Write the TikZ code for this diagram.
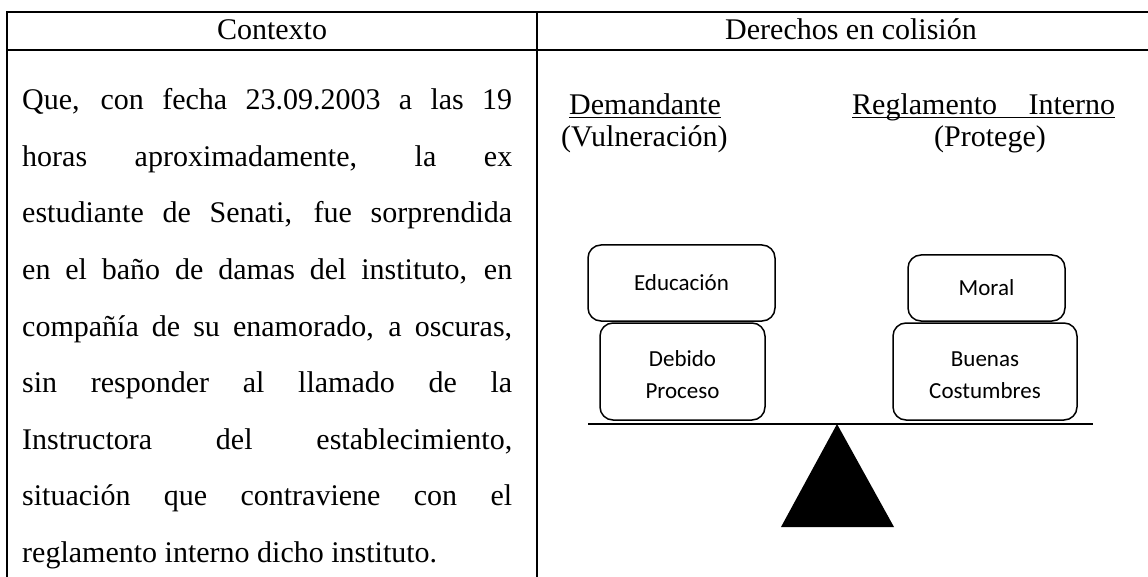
\documentclass[tikz,border=0pt]{standalone}
\usepackage{fontspec}
\setmainfont{Liberation Serif}
\newfontfamily\boxfont{Carlito}
\newcommand\myul[1]{\setbox0\hbox{#1}\rlap{\rule[-3.5pt]{\wd0}{1.3pt}}\box0}
\tikzset{
  tabline/.style={line width=2pt},
  hdtext/.style={font=\fontsize{30}{36}\selectfont, anchor=base, inner sep=0pt},
  bodytext/.style={font=\fontsize{30}{36}\selectfont, anchor=base west, inner sep=0pt},
  rbox/.style={draw, line width=1.5pt, rounded corners=13pt, inner sep=0pt,
    font=\boxfont\fontsize{23}{32}\selectfont, align=center},
}
\begin{document}
\begin{tikzpicture}[x=1pt,y=-1pt]
\useasboundingbox (0,0) rectangle (1148,577);
% table
\draw[tabline] (1148,12) -- (6.5,12) -- (6.5,577);
\draw[tabline] (6.5,50) -- (1148,50);
\draw[tabline] (537,12) -- (537,577);
% headers
\node[hdtext] (hctx) at (272,40) {Contexto};
\node[hdtext] (hder) at (851,40) {Derechos en colisión};
% left column text
\node[bodytext] (l1) at (22,110) {\makebox[490pt][s]{Que, con fecha 23.09.2003 a las 19}};
\node[bodytext] (l2) at (22,166.5) {\makebox[490pt][s]{horas aproximadamente, la ex}};
\node[bodytext] (l3) at (22,223) {\makebox[490pt][s]{estudiante de Senati, fue sorprendida}};
\node[bodytext] (l4) at (22,279.5) {\makebox[490pt][s]{en el baño de damas del instituto, en}};
\node[bodytext] (l5) at (22,336) {\makebox[490pt][s]{compañía de su enamorado, a oscuras,}};
\node[bodytext] (l6) at (22,392.5) {\makebox[490pt][s]{sin responder al llamado de la}};
\node[bodytext] (l7) at (22,449) {\makebox[490pt][s]{Instructora del establecimiento,}};
\node[bodytext] (l8) at (22,505.5) {\makebox[490pt][s]{situación que contraviene con el}};
\node[bodytext] (l9) at (22,562) {reglamento interno dicho instituto.};
% right column labels
\node[bodytext] (dem) at (569,115) {\myul{Demandante}};
\node[bodytext] (vul) at (561,147) {(Vulneración)};
\node[bodytext] (reg) at (852,115) {\myul{\makebox[263pt][s]{Reglamento Interno}}};
\node[hdtext] (pro) at (990,147) {(Protege)};
% boxes
\node[rbox, minimum width=187pt, minimum height=76pt] (edu) at (681.5,283) {Educación};
\node[rbox, minimum width=165pt, minimum height=97pt] (deb) at (682.5,371.5) {\rule{0pt}{23pt}Debido\\Proceso};
\node[rbox, minimum width=157pt, minimum height=66pt] (mor) at (986.5,288) {Moral};
\node[rbox, minimum width=184pt, minimum height=97pt] (bue) at (985,371.5) {\rule{0pt}{23pt}Buenas\\Costumbres};
% balance
\coordinate (bl) at (588,424);
\coordinate (br) at (1093,424);
\draw[line width=2pt] (bl) -- (br);
\coordinate (apex) at (837,424);
\coordinate (tl) at (781,527);
\coordinate (tr) at (894,527);
\fill (apex) -- (tl) -- (tr) -- cycle;
\end{tikzpicture}
\end{document}
